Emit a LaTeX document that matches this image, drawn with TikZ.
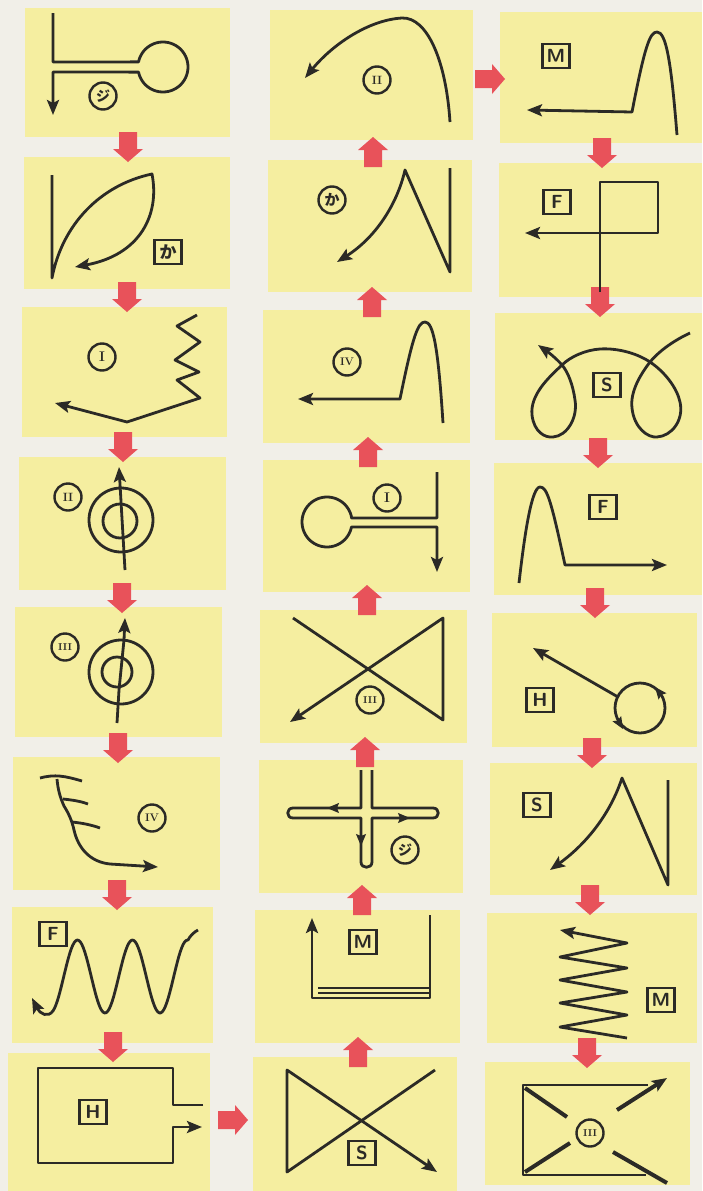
\documentclass[tikz,border=0pt]{standalone}
\usepackage{fontspec}
\newfontfamily\jp{Noto Sans CJK JP}
\usetikzlibrary{arrows.meta}
\definecolor{bg}{HTML}{F1EFE8}
\definecolor{panel}{HTML}{F5EEA0}
\definecolor{redarr}{HTML}{E8525A}
\definecolor{ink}{HTML}{2B2A26}
\begin{document}
\begin{tikzpicture}[x=1pt,y=-1pt,
  ln/.style={draw=ink,line width=2.8pt,line join=round},
  arr/.style={ln,-{Stealth[length=15pt,width=12pt,inset=3pt]}},
  tip/.style={draw=ink,line width=1pt,-{Stealth[length=12pt,width=10pt,inset=2pt]}},
  circlab/.style={circle,draw=ink,line width=2.4pt,minimum size=27pt,inner sep=0pt,text=ink,font=\fontsize{14}{14}\selectfont\bfseries},
  boxlab/.style={rectangle,draw=ink,line width=2.2pt,minimum width=27pt,minimum height=24pt,inner sep=0pt,text=ink,font=\fontsize{19}{19}\selectfont\sffamily\bfseries},
  pics/downarr/.style={code={\fill[redarr] (-9,-15) -- (9,-15) -- (9,2) -- (15,2) -- (0,15) -- (-15,2) -- (-9,2) -- cycle;}},
  pics/uparr/.style={code={\fill[redarr] (-9,15) -- (9,15) -- (9,-2) -- (15,-2) -- (0,-15) -- (-15,-2) -- (-9,-2) -- cycle;}},
  pics/rightarr/.style={code={\fill[redarr] (-15,-9) -- (2,-9) -- (2,-15) -- (15,0) -- (2,15) -- (2,9) -- (-15,9) -- cycle;}}
]
\useasboundingbox (0,0) rectangle (702,1191);
\fill[bg] (0,0) rectangle (702,1191);
% panels column 1
\fill[panel] (25,8) rectangle (230,137);
\fill[panel] (24,157) rectangle (230,289);
\fill[panel] (22,307) rectangle (227,437);
\fill[panel] (19,457) rectangle (226,590);
\fill[panel] (15,607) rectangle (222,737);
\fill[panel] (13,757) rectangle (220,890);
\fill[panel] (12,907) rectangle (213,1043);
\fill[panel] (8,1053) rectangle (210,1191);
% column 2
\fill[panel] (270,10) rectangle (473,140);
\fill[panel] (268,160) rectangle (472,292);
\fill[panel] (263,310) rectangle (470,443);
\fill[panel] (263,460) rectangle (470,592);
\fill[panel] (260,610) rectangle (467,743);
\fill[panel] (259,760) rectangle (463,893);
\fill[panel] (255,910) rectangle (460,1043);
\fill[panel] (253,1057) rectangle (457,1191);
% column 3
\fill[panel] (500,12) rectangle (702,143);
\fill[panel] (499,163) rectangle (702,297);
\fill[panel] (495,313) rectangle (702,440);
\fill[panel] (494,463) rectangle (702,595);
\fill[panel] (492,613) rectangle (697,747);
\fill[panel] (490,763) rectangle (697,895);
\fill[panel] (487,913) rectangle (697,1043);
\fill[panel] (485,1062) rectangle (690,1185);
% red arrows
\pic at (128,147) {downarr};
\pic at (127,297) {downarr};
\pic at (123,447) {downarr};
\pic at (122,598) {downarr};
\pic at (118,748) {downarr};
\pic at (117,895) {downarr};
\pic at (113,1047) {downarr};
\pic at (233,1120) {rightarr};
\pic at (358,1052) {uparr};
\pic at (362,900) {uparr};
\pic at (365,752) {uparr};
\pic at (367,600) {uparr};
\pic at (368,452) {uparr};
\pic at (372,302) {uparr};
\pic at (373,152) {uparr};
\pic at (490,79) {rightarr};
\pic at (602,153) {downarr};
\pic at (600,302) {downarr};
\pic at (598,453) {downarr};
\pic at (595,603) {downarr};
\pic at (592,753) {downarr};
\pic at (590,900) {downarr};
\pic at (587,1053) {downarr};

% ---------- column 1 ----------
% r1
\draw[arr] (53,13) -- (53,62) -- plot[domain=191.8:528.2,samples=60] ({163+25*cos(\x)},{67+25*sin(\x)}) -- (53,72) -- (53,115);
\node[circlab] (c1r1) at (103,96) {\jp\fontsize{14}{14}\selectfont ジ};
% r2
\draw[arr] (52,175) -- (52,278) .. controls (62,225) and (100,185) .. (152,174) .. controls (160,215) and (140,255) .. (75,267);
\node[boxlab] (c1r2) at (168,252) {\jp\fontsize{17}{17}\selectfont か};
% r3
\draw[arr] (197,315) -- (177,326) -- (200,342) -- (175,360) -- (199,372) -- (177,380) -- (200,398) -- (127,422) -- (55,403);
\node[circlab] (c1r3) at (102,357) {I};
% r4
\draw[ln] (121,520) circle[radius=32];
\draw[ln] (120,521) circle[radius=17];
\draw[arr] (125,570) -- (119,467);
\node[circlab] (c1r4) at (68,497) {\fontsize{12}{12}\selectfont II};
% r5
\draw[ln] (121,672) circle[radius=32];
\draw[ln] (117,672) circle[radius=15];
\draw[arr] (117,723) -- (119,690) -- (124,640) -- (125,618);
\node[circlab] (c1r5) at (65,647) {\fontsize{10}{10}\selectfont III};
% r6
\draw[ln] (40,778) .. controls (55,774) and (65,776) .. (82,781);
\draw[ln] (63,799) .. controls (72,800) and (80,801) .. (88,804);
\draw[ln] (72,822) .. controls (82,823) and (92,825) .. (100,828);
\draw[arr] (57,779) .. controls (58,790) and (60,797) .. (64,806) .. controls (69,814) and (72,821) .. (74,830) .. controls (78,848) and (90,862) .. (110,864) -- (158,867);
\node[circlab] (c1r6) at (152,818) {\fontsize{11}{11}\selectfont IV};
% r7
\node[boxlab] (c1r7) at (53,934) {F};
\draw[arr] (198,930) .. controls (194,932) and (190,936) .. (188,940) -- plot[domain=188:53,samples=90] (\x,{976.5+36.5*cos(6.54545*(\x-50))}) .. controls (48,1018) and (40,1014) .. (32,998);
% r8
\draw[arr] (203,1105) -- (173,1105) -- (173,1068) -- (38,1068) -- (38,1163) -- (173,1163) -- (173,1127) -- (202,1127);
\node[boxlab] (c1r8) at (93,1112) {H};

% ---------- column 2 ----------
% r1
\draw[arr] (450,122) .. controls (446,60) and (427,17) .. (402,18) .. controls (368,20) and (332,45) .. (305,78);
\node[circlab] (c2r1) at (377,80) {\fontsize{12}{12}\selectfont II};
% r2
\draw[arr] (450,168) -- (450,272) -- (405,170) .. controls (397,205) and (375,238) .. (337,262);
\node[circlab] (c2r2) at (332,200) {\jp\fontsize{15}{15}\selectfont か};
% r3
\draw[arr] (443,423) .. controls (438,345) and (433,322) .. (425,322) .. controls (418,322) and (413,335) .. (400,399) -- (298,399);
\node[circlab] (c2r3) at (347,362) {\fontsize{11}{11}\selectfont IV};
% r4
\draw[arr] (437,472) -- (437,518) -- (351.7,518) -- plot[domain=-9.3:-348.5,samples=60] ({327+25*cos(\x)},{522+25*sin(\x)}) -- (437,527) -- (437,572);
\node[circlab] (c2r4) at (387,498) {I};
% r5
\draw[arr] (293,618) -- (443,720) -- (443,618) -- (290,722);
\node[circlab] (c2r5) at (370,700) {\fontsize{10}{10}\selectfont III};
% r6
\draw[ln] (361,770) -- (361,808) -- (293,808) .. controls (286,808) and (286,818) .. (293,818) -- (361,818) -- (361,862) .. controls (361,869) and (372,869) .. (372,862) -- (372,818) -- (433,818) .. controls (440,818) and (440,808) .. (433,808) -- (372,808) -- (372,770);
\draw[tip] (345,808) -- (327,808);
\draw[tip] (392,818) -- (410,818);
\draw[tip] (361,828) -- (361,846);
\node[circlab] (c2r6) at (405,850) {\jp\fontsize{14}{14}\selectfont ジ};
% r7
\draw[arr] (430,915) -- (430,998) -- (312,998) -- (312,918);
\draw[ln,line width=2.2pt] (318,988) -- (430,988);
\draw[ln,line width=2.2pt] (318,993) -- (430,993);
\node[boxlab] (c2r7) at (363,942) {M};
% r8
\draw[arr] (435,1070) -- (287,1172) -- (287,1070) -- (437,1172);
\node[boxlab] (c2r8) at (362,1153) {S};

% ---------- column 3 ----------
% r1
\draw[arr] (677,135) .. controls (671,60) and (666,32) .. (657,32) .. controls (650,32) and (645,45) .. (632,112) -- (527,110);
\node[boxlab] (c3r1) at (556,56) {M};
% r2
\draw[arr] (600,292) -- (600,182) -- (658,182) -- (658,233) -- (525,233);
\node[boxlab] (c3r2) at (557,202) {F};
% r3
\draw[arr] (690,333) .. controls (675,340) and (660,350) .. (650,362)
  .. controls (640,375) and (630,392) .. (632,408)
  .. controls (634,428) and (648,438) .. (657,437)
  .. controls (672,436) and (684,420) .. (680,402)
  .. controls (677,388) and (665,372) .. (650,362)
  .. controls (635,352) and (615,348) .. (600,349)
  .. controls (585,350) and (570,357) .. (562,365)
  .. controls (548,378) and (530,395) .. (532,415)
  .. controls (534,432) and (545,438) .. (553,437)
  .. controls (567,436) and (578,418) .. (575,400)
  .. controls (573,385) and (568,372) .. (562,365)
  .. controls (556,358) and (548,352) .. (538,345);
\node[boxlab] (c3r3) at (607,385) {S};
% r4
\draw[arr] (519,583) .. controls (525,530) and (532,487) .. (540,487) .. controls (547,487) and (551,500) .. (565,565) -- (667,565);
\node[boxlab] (c3r4) at (603,507) {F};
% r5
\draw[ln] (640,708) circle[radius=25];
\draw[arr] (618,697) -- (533,648);
\draw[tip] (663,697) -- (655,687);
\draw[tip] (617,719) -- (623,729);
\node[boxlab] (c3r5) at (540,700) {H};
% r6
\draw[arr] (668,780) -- (668,885) -- (622,778) .. controls (610,815) and (585,845) .. (550,870);
\node[boxlab] (c3r6) at (537,805) {S};
% r7
\draw[arr] (627,1038) -- (560,1027) -- (627,1015) -- (560,1003) -- (627,992) -- (560,980) -- (627,968) -- (560,957) -- (627,943) -- (560,930);
\node[boxlab] (c3r7) at (661,1000) {M};
% r8
\draw[ln] (648,1085) -- (523,1085) -- (523,1175) -- (646,1175);
\draw[ln,line width=4pt] (525,1088) -- (567,1117);
\draw[ln,line width=4pt] (525,1172) -- (570,1143);
\draw[arr,line width=4pt] (617,1110) -- (667,1078);
\draw[ln,line width=4pt] (613,1152) -- (667,1183);
\node[circlab] (c3r8) at (590,1133) {\fontsize{10}{10}\selectfont III};
\end{tikzpicture}
\end{document}
